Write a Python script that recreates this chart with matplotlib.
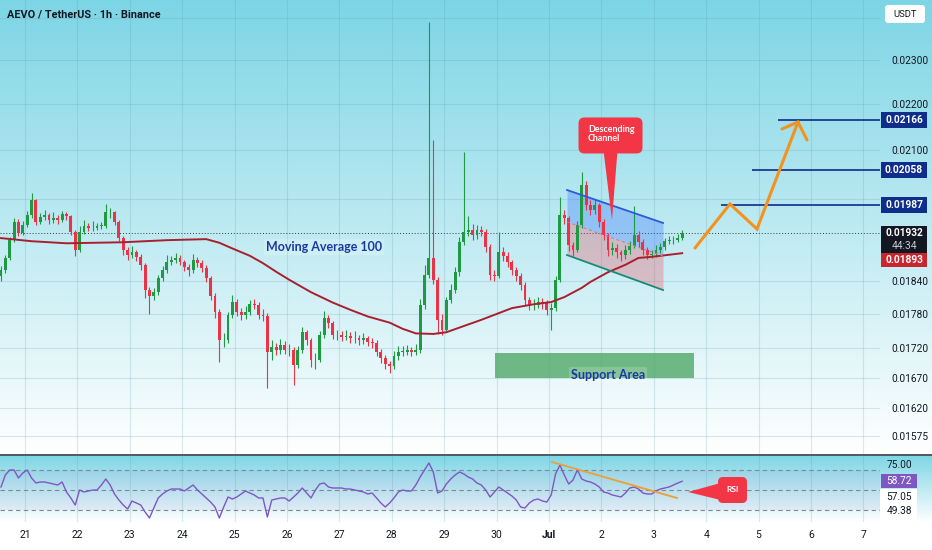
import numpy as np
import matplotlib
matplotlib.use("Agg")
import matplotlib.pyplot as plt
from matplotlib.patches import Rectangle, FancyBboxPatch, Polygon
from matplotlib.ticker import NullLocator, NullFormatter, FixedLocator, FixedFormatter

plt.rcParams['font.family'] = ['Roboto', 'DejaVu Sans']

# ---------------- data (prices in 1e-5 USDT) ----------------
title = "AEVO / TetherUS \u00b7 1h \u00b7 Binance"
start_day = 20.5417          # day number (Jun 21 = 21, Jul 1 = 31)
step_day = 2 / 24            # 2-hour candles
first_open = 1850
closes = [1861,1884,1918,1954,1932,1948,1967,1997,1954,1963,
          1967,1957,1961,1957,1969,1965,1934,1899,1934,1946,
          1942,1942,1946,1946,1973,1973,1954,1922,1899,1890,
          1895,1886,1871,1824,1813,1820,1846,1861,1876,1880,
          1884,1876,1867,1861,1880,1874,1865,1846,1813,1784,
          1734,1734,1779,1802,1784,1779,1784,1798,1797,1779,
          1777,1714,1722,1717,1726,1717,1717,1691,1717,1748,
          1734,1700,1700,1743,1773,1764,1743,1743,1739,1741,
          1738,1738,1734,1738,1731,1729,1714,1703,1693,1689,
          1707,1714,1714,1717,1714,1717,1797,1852,1884,1843,
          1770,1752,1806,1824,1857,1914,1934,1938,1928,1938,
          1934,1905,1852,1850,1895,1888,1876,1861,1850,1833,
          1806,1797,1797,1802,1800,1788,1791,1843,1967,1961,
          1909,1899,1948,2028,1987,1977,1987,1954,1928,1899,
          1903,1895,1890,1899,1907,1928,1914,1899,1890,1892,
          1899,1905,1916,1918,1918,1922,1932]
highs = [1868,1890,1925,1962,1960,1955,1975,2011,2000,1972,
         1978,1972,1974,1968,1976,1973,1968,1938,1945,1958,
         1952,1956,1952,1953,1990,1982,1976,1958,1926,1904,
         1906,1900,1892,1875,1830,1828,1852,1868,1890,1888,
         1893,1890,1880,1872,1892,1886,1880,1870,1850,1818,
         1790,1746,1784,1815,1808,1792,1795,1806,1808,1802,
         1790,1782,1735,1730,1736,1732,1728,1722,1724,1758,
         1752,1738,1712,1750,1786,1778,1768,1752,1750,1752,
         1748,1750,1744,1746,1742,1738,1734,1718,1708,1698,
         1716,1724,1724,1726,1722,1728,1808,1870,2390,2122,
         1848,1780,1812,1836,1866,1925,2096,1965,1950,1948,
         1946,1940,1910,1862,1934,1905,1895,1880,1866,1856,
         1838,1812,1808,1812,1810,1806,1800,1850,2003,1978,
         1966,1915,1956,2055,2035,1998,2000,1992,1960,1932,
         1914,1910,1900,1908,1916,1985,1935,1920,1904,1900,
         1908,1912,1922,1926,1926,1930,1938]
lows = [1840,1855,1880,1914,1926,1928,1944,1962,1948,1950,
        1958,1950,1952,1950,1953,1958,1928,1888,1895,1930,
        1936,1936,1938,1940,1942,1962,1948,1916,1890,1880,
        1884,1878,1862,1810,1780,1806,1815,1840,1856,1870,
        1874,1870,1860,1850,1856,1866,1858,1838,1805,1774,
        1696,1722,1730,1774,1776,1770,1772,1778,1790,1772,
        1768,1652,1700,1708,1710,1710,1706,1657,1686,1712,
        1726,1688,1684,1696,1738,1756,1736,1734,1732,1734,
        1730,1730,1726,1728,1724,1720,1706,1694,1684,1678,
        1684,1700,1706,1708,1706,1708,1712,1790,1846,1836,
        1745,1743,1748,1800,1818,1850,1908,1926,1918,1920,
        1926,1896,1842,1840,1846,1878,1866,1852,1840,1824,
        1796,1788,1788,1792,1790,1778,1752,1786,1838,1950,
        1898,1888,1895,1942,1978,1968,1970,1944,1918,1888,
        1890,1884,1878,1882,1892,1902,1905,1890,1882,1884,
        1886,1893,1900,1910,1910,1914,1918]
ma_idx = [0,7,15,28,38,47,50,53,57,60,63,66,71,76,80,84,89,92,95,99,102,106,110,117,122,126,129,133,135,139,143,146,149,153,156]
ma_val = [1922,1916,1912,1914,1918,1920,1913,1902,1888,1874,1858,1843,1820,1801,1788,1776,1765,1754,1746,1745,1748,1759,1770,1791,1798,1802,1811,1828,1839,1857,1871,1884,1886,1890,1893]
rsi = [53,65,70,70,62,67,70,62,57,58,
       58,57,56,55,58,48,42,35,50,48,
       49,50,50,55,61,55,46,40,35,31,
       39,37,35,28,22,32,42,46,49,51,
       51,51,49,52,55,50,46,42,38,33,
       22,33,43,41,43,46,49,47,45,42,
       42,23,40,41,42,42,39,43,47,52,
       47,42,50,56,57,53,52,52,52,51,
       51,50,49,48,46,47,42,37,33,37,
       42,48,50,49,49,55,63,70,77,68,
       47,49,56,61,65,68,66,63,61,57,
       55,50,43,48,53,50,47,44,40,33,
       32,37,40,41,39,38,45,66,75,65,
       56,60,70,61,59,58,56,53,48,47,
       45,44,43,47,52,53,51,47,46,46,
       49,51,52,53,55,57,58.72]
rsi_levels = [70, 50, 30]
rsi_axis_label = 75.00
rsi_extra_labels = ["57.05", "49.38"]

day_ticks = list(range(21, 38))
day_labels = ['21','22','23','24','25','26','27','28','29','30','Jul','2','3','4','5','6','7']
price_ticks = [0.023, 0.022, 0.021, 0.0184, 0.0178, 0.0172, 0.0167, 0.0162, 0.01575]
grid_only = [0.024, 0.020]

targets = [0.02166, 0.02058, 0.01987]
target_start = [35.37, 34.87, 34.28]
countdown = "44:34"

support_x = (29.97, 33.77)
support_y = (0.01669, 0.01712)
channel_x = [31.344, 33.176]
channel_top = [0.020175, 0.019516]
channel_mid = [0.019536, 0.018876]
channel_bot = [0.018895, 0.018240]
path_x = [33.786, 34.454, 34.969, 35.752]
path_y = [0.019029, 0.019892, 0.019397, 0.021606]
head_x = [35.447, 35.752, 35.924]
head_y = [0.021455, 0.021606, 0.021218]
rsi_trend_x = [31.057, 33.443]
rsi_trend_y = [78, 42]

# ---------------- figure ----------------
W, H = 932, 550
fig = plt.figure(figsize=(W / 100, H / 100), dpi=100)

# background gradient
top_c = np.array([124, 213, 229]) / 255.0
img = np.ones((H, 1, 3))
for yy in range(H):
    if yy < 454:
        f = yy / 454.0
    elif yy < 522:
        f = (yy - 454) / 68.0
    else:
        f = 1.0
    img[yy, 0] = top_c * (1 - f) + f
bg = fig.add_axes([0, 0, 1, 1])
bg.imshow(img, aspect='auto', extent=[0, W, H, 0], interpolation='bilinear')
bg.set_xlim(0, W); bg.set_ylim(H, 0); bg.axis('off')
bg.set_zorder(0)

xl = (20.5229, 37.3168)
ax = fig.add_axes([0, 96 / H, 880 / W, 454 / H])
ax2 = fig.add_axes([0, 28 / H, 880 / W, 68 / H])
for a in (ax, ax2):
    a.set_zorder(1)
    a.patch.set_alpha(0)
    for s in a.spines.values():
        s.set_visible(False)
    a.set_xlim(*xl)

ax.set_yscale('log')
ax.set_ylim(0.015461, 0.024434)
ax.yaxis.set_major_locator(FixedLocator(price_ticks))
ax.yaxis.set_major_formatter(FixedFormatter([f"{p:.5f}" for p in price_ticks]))
ax.yaxis.set_minor_locator(NullLocator())
ax.yaxis.set_minor_formatter(NullFormatter())
ax.tick_params(axis='y', which='both', left=False, right=False, labelleft=False,
               labelright=True, pad=5, labelsize=7.3, labelcolor='#131722')
ax.set_xticks([])

gridc = '#5d9ca8'
for p in price_ticks + grid_only:
    ax.axhline(p, color=gridc, alpha=0.22, lw=0.8, zorder=0.5)
for d in day_ticks:
    ax.axvline(d, color=gridc, alpha=0.22, lw=0.8, zorder=0.5)
    ax2.axvline(d, color=gridc, alpha=0.22, lw=0.8, zorder=0.5)

# candles
sc = 1e-5
c = np.array(closes) * sc
o = np.array([first_open] + closes[:-1]) * sc
hi = np.array(highs) * sc
lo = np.array(lows) * sc
t = start_day + np.arange(len(closes)) * step_day
up = c >= o
cols = np.where(up, '#1f9a43', '#ea3347')
ax.vlines(t, lo, hi, colors=cols, lw=0.8, zorder=2)
body_lo = np.minimum(o, c)
body_h = np.maximum(np.abs(c - o), 0.000006)
ax.bar(t, body_h, bottom=body_lo, width=0.055, color=cols, linewidth=0, zorder=2.1)

# moving average 100
ma_t = start_day + np.array(ma_idx) * step_day
ax.plot(ma_t, np.array(ma_val) * sc, color='#a8202d', lw=1.4, zorder=3)

last_price = closes[-1] * sc
ax.axhline(last_price, color='#3a3a3a', lw=0.7, ls=(0, (1, 2)), zorder=1.5)

# target lines
ax.hlines(targets, target_start, xl[1], colors='#0d2c8c', lw=1.2, zorder=3)

# descending channel
ax.fill_between(channel_x, channel_top, channel_mid, color='#2f6bff', alpha=0.3, lw=0, zorder=1.8)
ax.fill_between(channel_x, channel_mid, channel_bot, color='#f23645', alpha=0.27, lw=0, zorder=1.8)
ax.plot(channel_x, channel_top, color='#2c5ad8', lw=1.3, zorder=3)
ax.plot(channel_x, channel_bot, color='#1b8a74', lw=1.3, zorder=3)
ax.plot(channel_x, channel_mid, color='#e07080', lw=0.7, ls=(0, (3, 3)), zorder=3)

# support area
ax.add_patch(Rectangle((support_x[0], support_y[0]), support_x[1] - support_x[0],
                       support_y[1] - support_y[0], fc='#58ad70', alpha=0.85, ec='none', zorder=1.8))

# orange projection path
ax.plot(path_x, path_y, color='#f5921b', lw=2.2, solid_capstyle='round', solid_joinstyle='miter', zorder=4)
ax.plot(head_x, head_y, color='#f5921b', lw=2.2, solid_capstyle='round', solid_joinstyle='miter', zorder=4)

txtc = '#1a3aa0'
ax.text(26.706, 0.019048, "Moving Average 100", color=txtc, fontsize=9, fontweight='bold',
        family=['Lato', 'DejaVu Sans'], ha='center', va='center', zorder=5,
        bbox=dict(boxstyle='square,pad=0.15', fc='white', alpha=0.18, ec='none'))
ax.text(32.126, 0.016744, "Support Area", color=txtc, fontsize=9, fontweight='bold',
        family=['Lato', 'DejaVu Sans'], ha='center', va='center', zorder=5,
        bbox=dict(boxstyle='square,pad=0.15', fc='white', alpha=0.18, ec='none'))

# RSI pane
ax2.set_ylim(18, 86)
ax2.set_yticks([])
ax2.set_xticks(day_ticks)
ax2.set_xticklabels(day_labels)
ax2.tick_params(axis='x', length=0, pad=6, labelsize=7.5, labelcolor='#131722')
for lab in ax2.get_xticklabels():
    if lab.get_text() == 'Jul':
        lab.set_fontweight('bold')
ax2.fill_between(xl, 30, 70, color='#7e57c2', alpha=0.07, lw=0)
for lv in rsi_levels:
    ax2.axhline(lv, color='#7d8a94', lw=0.8, ls=(0, (4, 3)), zorder=1)
ax2.plot(t, rsi, color='#7e57c2', lw=1.0, zorder=3)
ax2.plot(rsi_trend_x, rsi_trend_y, color='#eda032', lw=1.3, zorder=4)

# ---------------- overlay (pixel coords) ----------------
ov = fig.add_axes([0, 0, 1, 1])
ov.set_zorder(5)
ov.patch.set_alpha(0)
ov.set_xlim(0, W); ov.set_ylim(H, 0); ov.axis('off')

def px(a, x, y):
    X, Y = a.transData.transform((x, y))
    return X, H - Y

ov.plot([0, W], [454.5, 454.5], color='#4d5b66', lw=1.4)

ov.text(7, 14, title, fontsize=7.8, fontweight='bold', color='#131722', ha='left', va='center')

ov.add_patch(FancyBboxPatch((885, 5), 40, 18, boxstyle='round,pad=0,rounding_size=3', fc='white', ec='none'))
ov.text(905, 14.5, "USDT", fontsize=6.8, color='#131722', ha='center', va='center')

for v in targets:
    _, yy = px(ax, 30, v)
    ov.add_patch(Rectangle((881, yy - 8), 46, 16, fc='#0f2e8c', ec='none'))
    ov.text(904, yy, f"{v:.5f}", color='white', fontsize=7.3, fontweight='bold', ha='center', va='center')

_, yc = px(ax, 30, last_price)
ov.add_patch(Rectangle((881, yc - 7), 46, 27, fc='#131722', ec='none'))
ov.text(904, yc, f"{last_price:.5f}", color='white', fontsize=7.3, fontweight='bold', ha='center', va='center')
ov.text(904, yc + 13, countdown, color='#c9cbd0', fontsize=7.3, ha='center', va='center')
ov.add_patch(Rectangle((881, yc + 20), 46, 14, fc='#c9252f', ec='none'))
ov.text(904, yc + 27, f"{ma_val[-1] * sc:.5f}", color='white', fontsize=7.3, fontweight='bold',
        ha='center', va='center')

# RSI labels
_, y75 = px(ax2, 30, rsi_axis_label)
ov.text(899, y75, f"{rsi_axis_label:.2f}", fontsize=7.3, color='#131722', ha='center', va='center')
_, yr = px(ax2, 30, rsi[-1])
ov.add_patch(Rectangle((881, yr - 7), 36, 14, fc='#7e57c2', ec='none'))
ov.text(899, yr, f"{rsi[-1]:.2f}", fontsize=7.3, color='white', ha='center', va='center')
ov.add_patch(Rectangle((880, yr + 8), 37, 522 - (yr + 8), fc='white', ec='none'))
ov.text(899, yr + 15.5, rsi_extra_labels[0], fontsize=7.3, color='#131722', ha='center', va='center')
ov.text(899, yr + 29.5, rsi_extra_labels[1], fontsize=7.3, color='#131722', ha='center', va='center')

# callout: Descending Channel
red = '#f23645'
cx, cy = px(ax, 32.174, 0.021315)
tx, ty = px(ax, 32.202, 0.019574)
ov.add_patch(Polygon([(cx - 7, cy + 15), (cx + 7, cy + 15), (tx, ty)], closed=True, fc=red, ec='none'))
ov.add_patch(FancyBboxPatch((cx - 32, cy - 18), 64, 36, boxstyle='round,pad=0,rounding_size=6',
                            fc=red, ec='none'))
ov.text(cx - 22.5, cy - 1, "Descending\nChannel", fontsize=6.4, fontweight='bold', color='white',
        family=['Lato', 'DejaVu Sans'], ha='left', va='center', linespacing=1.0)

# callout: RSI
rx, ry = px(ax2, 34.502, 50)
rtx, rty = px(ax2, 33.653, 48)
ov.add_patch(Polygon([(rtx, rty), (rx - 12, ry - 7), (rx - 12, ry + 10)], closed=True, fc=red, ec='none'))
ov.add_patch(FancyBboxPatch((rx - 14.5, ry - 13), 29, 26, boxstyle='round,pad=0,rounding_size=5',
                            fc=red, ec='none'))
ov.text(rx, ry, "RSI", fontsize=6.0, fontweight='bold', color='white', family=['Lato', 'DejaVu Sans'],
        ha='center', va='center')

fig.savefig('out.png', dpi=100)
